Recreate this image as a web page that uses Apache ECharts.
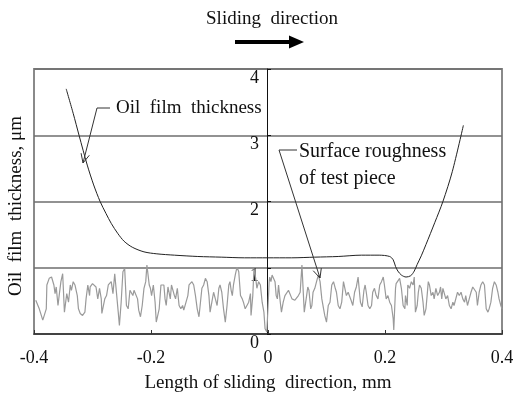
<!DOCTYPE html>
<html>
<head>
<meta charset="utf-8">
<script src="https://cdn.jsdelivr.net/npm/echarts@6/dist/echarts.min.js"></script>
<style>
  html, body { margin: 0; padding: 0; background: #fff; }
  #chart { width: 516px; height: 396px; }
</style>
</head>
<body>
<div id="chart"></div>
<script>
var FONT = "'Liberation Serif', 'Times New Roman', serif";

// oil film thickness curve (x in mm, y in um)
var oilX = [-0.345, -0.333, -0.323, -0.309, -0.298, -0.287, -0.277, -0.268, -0.257, -0.246, -0.232, -0.212, -0.190, -0.160, -0.120, -0.080, -0.040, 0.000, 0.040, 0.080, 0.120, 0.160, 0.190, 0.208, 0.214, 0.218, 0.222, 0.228, 0.236, 0.244, 0.250, 0.255, 0.262, 0.270, 0.285, 0.299, 0.315, 0.334];
var oilY = [3.70, 3.33, 3.00, 2.55, 2.25, 2.00, 1.82, 1.67, 1.52, 1.40, 1.31, 1.24, 1.21, 1.19, 1.17, 1.16, 1.15, 1.15, 1.15, 1.16, 1.17, 1.19, 1.19, 1.17, 1.12, 1.02, 0.95, 0.89, 0.86, 0.88, 0.95, 1.05, 1.18, 1.35, 1.68, 2.00, 2.45, 3.15];

// surface roughness of test piece
var roughX = [
  -0.397, -0.391, -0.385, -0.382, -0.379, -0.378, -0.374, -0.370, -0.366, -0.364, -0.362, -0.359, -0.357, -0.354, -0.351, -0.349, -0.348, -0.346, -0.344, -0.341, -0.338, -0.336, -0.333, -0.330, -0.326, -0.324, -0.321, -0.317, -0.313, -0.311, -0.308, -0.305, -0.304, -0.300, -0.297, -0.294, -0.291, -0.288, -0.285, -0.284, -0.281, -0.279, -0.276, -0.273, -0.268,
  -0.265, -0.262, -0.259, -0.256, -0.254, -0.251, -0.248, -0.245, -0.242, -0.239, -0.236, -0.233, -0.231, -0.229, -0.226, -0.223, -0.221, -0.218, -0.215, -0.212, -0.209, -0.207, -0.206, -0.203, -0.201, -0.199, -0.196, -0.193, -0.191, -0.189, -0.186, -0.183, -0.181, -0.178, -0.176, -0.174, -0.171, -0.169, -0.167, -0.165, -0.162, -0.160, -0.158, -0.155, -0.152, -0.149, -0.146, -0.144, -0.141, -0.137, -0.135,
  -0.133, -0.130, -0.127, -0.124, -0.121, -0.118, -0.116, -0.113, -0.110, -0.107, -0.104, -0.101, -0.099, -0.096, -0.093, -0.090, -0.087, -0.084, -0.082, -0.079, -0.076, -0.073, -0.070, -0.067, -0.065, -0.063, -0.061, -0.059, -0.056, -0.053, -0.050, -0.047, -0.044, -0.042, -0.039, -0.036, -0.033, -0.030, -0.029, -0.026, -0.024, -0.023, -0.021, -0.019, -0.016, -0.013, -0.010, -0.007, -0.005, -0.002,
  0.002, 0.003, 0.005, 0.007, 0.009, 0.012, 0.014, 0.016, 0.018, 0.021, 0.023, 0.026, 0.029, 0.032, 0.035, 0.038, 0.041, 0.046, 0.052, 0.055, 0.058, 0.059, 0.062, 0.063, 0.066, 0.068, 0.070, 0.073, 0.075, 0.077, 0.080, 0.083, 0.086, 0.089, 0.092, 0.095, 0.097, 0.100, 0.103, 0.106, 0.109, 0.112, 0.115, 0.117, 0.120, 0.123, 0.126, 0.129, 0.132,
  0.134, 0.137, 0.140, 0.142, 0.145, 0.148, 0.151, 0.154, 0.156, 0.158, 0.161, 0.164, 0.166, 0.168, 0.171, 0.174, 0.177, 0.179, 0.182, 0.185, 0.188, 0.191, 0.194, 0.197, 0.199, 0.202, 0.205, 0.208, 0.211, 0.214, 0.215, 0.218, 0.219, 0.222, 0.225, 0.228, 0.231, 0.234, 0.235, 0.238, 0.239, 0.242, 0.245, 0.248, 0.250, 0.252, 0.255, 0.257, 0.259, 0.262, 0.265,
  0.267, 0.270, 0.272, 0.274, 0.276, 0.279, 0.282, 0.284, 0.287, 0.290, 0.293, 0.295, 0.297, 0.299, 0.301, 0.304, 0.307, 0.310, 0.313, 0.316, 0.318, 0.321, 0.324, 0.327, 0.330, 0.333, 0.336, 0.338, 0.341, 0.344, 0.347, 0.350, 0.353, 0.356, 0.358, 0.361, 0.364, 0.367, 0.370, 0.373, 0.376, 0.378, 0.381, 0.384, 0.387, 0.390, 0.393, 0.395, 0.398, 0.400
];
var roughY = [
  0.51, 0.38, 0.21, 0.18, 0.38, 0.74, 0.84, 0.86, 0.74, 0.61, 0.71, 0.43, 0.58, 0.79, 0.91, 0.89, 0.33, 0.33, 0.61, 0.48, 0.74, 0.66, 0.79, 0.74, 0.58, 0.38, 0.31, 0.28, 0.33, 0.53, 0.74, 0.58, 0.71, 0.76, 0.74, 0.71, 0.53, 0.69, 0.53, 0.31, 0.31, 0.53, 0.58, 0.74, 0.79,
  0.61, 0.91, 0.94, 0.33, 0.13, 0.48, 0.94, 0.99, 0.43, 0.38, 0.66, 0.63, 0.58, 0.66, 0.63, 0.53, 0.36, 0.26, 0.43, 0.69, 0.79, 1.04, 1.01, 0.74, 0.69, 0.58, 0.74, 0.48, 0.18, 0.16, 0.38, 0.74, 0.76, 0.74, 0.53, 0.43, 0.71, 0.71, 0.53, 0.74, 0.71, 0.58, 0.53, 0.69, 0.43, 0.38, 0.43, 0.36, 0.38, 0.58, 0.74,
  0.76, 0.79, 0.74, 0.58, 0.38, 0.26, 0.43, 0.69, 0.74, 0.84, 0.79, 0.58, 0.33, 0.48, 0.63, 0.53, 0.43, 0.69, 0.74, 0.63, 0.38, 0.18, 0.43, 0.74, 0.79, 0.66, 0.58, 0.74, 0.89, 1.01, 0.94, 0.58, 0.53, 0.48, 0.38, 0.43, 0.48, 0.61, 0.28, 0.58, 0.99, 1.01, 0.84, 0.69, 0.79, 0.74, 0.48, 0.33, 0.08, 0.03,
  0.79, 0.86, 0.79, 0.89, 0.91, 0.79, 0.58, 0.53, 0.74, 0.48, 0.33, 0.48, 0.58, 0.58, 0.66, 0.66, 0.53, 0.51, 0.58, 0.63, 1.04, 1.04, 0.33, 0.31, 0.58, 0.71, 0.66, 0.38, 0.43, 0.63, 0.69, 0.79, 0.89, 0.79, 0.53, 0.38, 0.28, 0.18, 0.43, 0.48, 0.74, 0.79, 0.69, 0.63, 0.43, 0.38, 0.48, 0.79, 0.79,
  0.58, 0.63, 0.61, 0.51, 0.43, 0.63, 0.71, 0.86, 0.84, 0.48, 0.41, 0.66, 0.74, 0.63, 0.43, 0.38, 0.43, 0.63, 0.69, 0.58, 0.53, 0.74, 0.79, 0.86, 0.74, 0.53, 0.58, 0.48, 0.43, 0.23, 0.06, 0.69, 0.76, 0.74, 0.84, 0.69, 0.43, 0.38, 0.58, 0.43, 0.74, 0.69, 0.79, 0.74, 0.86, 0.33, 0.43, 0.63, 0.74, 0.69, 0.48,
  0.28, 0.38, 0.58, 0.79, 0.74, 0.58, 0.63, 0.53, 0.69, 0.58, 0.63, 0.71, 0.53, 0.69, 0.71, 0.53, 0.58, 0.43, 0.38, 0.48, 0.43, 0.53, 0.63, 0.58, 0.63, 0.53, 0.48, 0.58, 0.43, 0.53, 0.63, 0.71, 0.74, 0.63, 0.43, 0.63, 0.74, 0.79, 0.74, 0.38, 0.33, 0.38, 0.48, 0.69, 0.79, 0.74, 0.63, 0.53, 0.43, 0.38
];

var xTicks = [-0.4, 0.4, 0.2];   // min, max, interval
var yTicks = [0, 4, 1];

function pairs(xs, ys) {
  return xs.map(function (x, i) { return [x, ys[i]]; });
}

var chart = echarts.init(document.getElementById('chart'), null, { renderer: 'canvas' });

var option = {
  backgroundColor: '#fff',
  animation: false,
  textStyle: { fontFamily: FONT },
  grid: {
    left: 34, right: 14, top: 69, bottom: 62,
    containLabel: false, outerBoundsMode: 'none',
    show: true, borderColor: '#8a8a8a', borderWidth: 2, backgroundColor: 'transparent'
  },
  xAxis: {
    type: 'value',
    min: xTicks[0], max: xTicks[1], interval: xTicks[2],
    name: 'Length of sliding  direction, mm',
    nameLocation: 'middle', nameGap: 40,
    nameTextStyle: { fontFamily: FONT, fontSize: 19, color: '#111' },
    axisLine: { lineStyle: { color: '#333', width: 1.5 } },
    axisTick: { inside: true, length: 4, lineStyle: { color: '#333' } },
    axisLabel: { fontFamily: FONT, fontSize: 18, color: '#111', margin: 15 },
    splitLine: { show: false }
  },
  yAxis: {
    type: 'value',
    min: yTicks[0], max: yTicks[1], interval: yTicks[2],
    offset: -233,
    axisLine: { onZero: false, lineStyle: { color: '#111', width: 1 } },
    axisTick: { inside: true, length: 4, lineStyle: { color: '#111' } },
    axisLabel: { fontFamily: FONT, fontSize: 18, color: '#111', margin: 8, verticalAlign: 'top' },
    splitLine: { show: true, lineStyle: { color: '#6e6e6e', width: 1.5 } }
  },
  series: [
    {
      name: 'Surface roughness of test piece',
      type: 'line',
      data: pairs(roughX, roughY),
      showSymbol: false,
      lineStyle: { color: '#9a9a9a', width: 1.2 },
      z: 2
    },
    {
      name: 'Oil film thickness',
      type: 'line',
      data: pairs(oilX, oilY),
      smooth: 0.3,
      showSymbol: false,
      lineStyle: { color: '#222', width: 1 },
      z: 3
    }
  ],
  graphic: [
    { type: 'text', style: { x: 272, y: 19, text: 'Sliding  direction', font: '19px ' + FONT, fill: '#111', align: 'center', verticalAlign: 'middle' }, z: 10 },
    { type: 'line', shape: { x1: 235, y1: 42, x2: 291, y2: 42 }, style: { stroke: '#000', lineWidth: 4 }, z: 10 },
    { type: 'polygon', shape: { points: [[289, 35.5], [304, 42], [289, 48.5]] }, style: { fill: '#000' }, z: 10 },
    {
      type: 'text', x: 16, y: 206, rotation: Math.PI / 2,
      style: { text: 'Oil  film  thickness, \u03bcm', font: '19px ' + FONT, fill: '#111', align: 'center', verticalAlign: 'middle' },
      z: 10
    },
    { type: 'text', style: { x: 116, y: 108, text: 'Oil  film  thickness', font: '19px ' + FONT, fill: '#111', verticalAlign: 'middle' }, z: 10 },
    { type: 'polyline', shape: { points: [[110, 108], [97, 108], [83, 163]] }, style: { stroke: '#333', lineWidth: 1, fill: null }, z: 10 },
    { type: 'polyline', shape: { points: [[89.3, 155.3], [83, 163], [81.1, 153.2]] }, style: { stroke: '#333', lineWidth: 1, fill: null }, z: 10 },
    { type: 'text', style: { x: 299, y: 152, text: 'Surface roughness', font: '20px ' + FONT, fill: '#111', verticalAlign: 'middle' }, z: 10 },
    { type: 'text', style: { x: 299, y: 179, text: 'of test piece', font: '20px ' + FONT, fill: '#111', verticalAlign: 'middle' }, z: 10 },
    { type: 'polyline', shape: { points: [[297, 150], [279, 150], [320, 278]] }, style: { stroke: '#333', lineWidth: 1, fill: null }, z: 10 },
    { type: 'polyline', shape: { points: [[321.3, 268.1], [320, 278], [313.2, 270.7]] }, style: { stroke: '#333', lineWidth: 1, fill: null }, z: 10 }
  ]
};

chart.setOption(option);
</script>
</body>
</html>
